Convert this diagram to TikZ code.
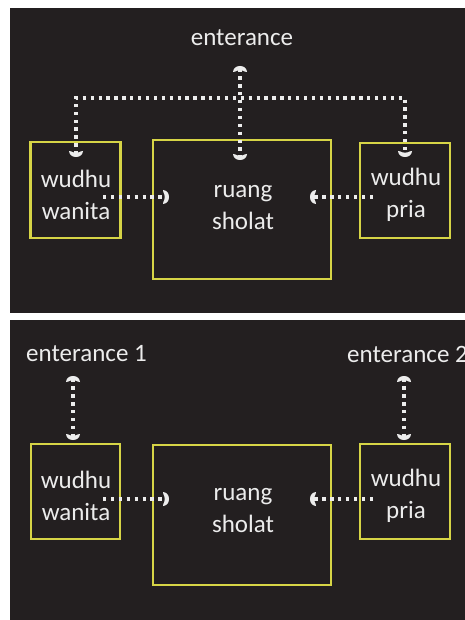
\documentclass[tikz,border=0pt]{standalone}
\usepackage{fontspec}
\setmainfont{Carlito}
\usetikzlibrary{arrows.meta}
\definecolor{panelbg}{RGB}{35,31,32}
\definecolor{boxline}{RGB}{214,212,70}
\definecolor{ink}{RGB}{236,236,236}

% filled crescent arrow head, convex side pointing forward
\pgfdeclarearrow{
  name = Crescent,
  setup code = {
    \pgfarrowssettipend{0pt}
    \pgfarrowssetlineend{-2.5pt}
    \pgfarrowssetvisualbackend{-6pt}
    \pgfarrowssetbackend{-6pt}
    \pgfarrowshullpoint{0pt}{0pt}
    \pgfarrowshullpoint{-6pt}{7pt}
    \pgfarrowshullpoint{-6pt}{-7pt}
  },
  drawing code = {
    \pgfsetfillcolor{ink}
    \pgfpathmoveto{\pgfpoint{-6pt}{7pt}}
    \pgfpathcurveto{\pgfpoint{-2.2pt}{6.8pt}}{\pgfpoint{0pt}{3.8pt}}{\pgfpoint{0pt}{0pt}}
    \pgfpathcurveto{\pgfpoint{0pt}{-3.8pt}}{\pgfpoint{-2.2pt}{-6.8pt}}{\pgfpoint{-6pt}{-7pt}}
    \pgfpathlineto{\pgfpoint{-5.6pt}{-4.8pt}}
    \pgfpathcurveto{\pgfpoint{-3.9pt}{-2.7pt}}{\pgfpoint{-3.9pt}{2.7pt}}{\pgfpoint{-5.6pt}{4.8pt}}
    \pgfpathclose
    \pgfusepathqfill
  }
}

\tikzset{
  room/.style={draw=boxline, line width=2.6pt, inner sep=0pt},
  lbl/.style={text=ink, font=\fontsize{25}{32}\selectfont, align=center, inner sep=0pt},
  flow/.style={draw=ink, line width=3.3pt, dash pattern=on 3.3pt off 4.6pt},
}
\begin{document}
\begin{tikzpicture}[x=1pt, y=-1pt]
\useasboundingbox (0,0) rectangle (465,620);
% panels
\fill[white] (0,0) rectangle (465,620);
\fill[panelbg] (10,8) rectangle (465,313);
\fill[panelbg] (10,320) rectangle (465,620);

% ---------- upper layout: one shared entrance ----------
\node[room, minimum width=90pt, minimum height=96pt] (wanA) at (75.5,190) {};
\node[room, minimum width=178pt, minimum height=139pt] (ruangA) at (242,209.5) {};
\node[room, minimum width=90pt, minimum height=95pt] (priaA) at (405,190.5) {};
\node[lbl] (wanAt) at (76,195) {wudhu\\wanita};
\node[lbl] (ruangAt) at (243,208) {ruang\\sholat};
\node[lbl] (priaAt) at (406,195) {wudhu\\pria};
\node[lbl] (entA) at (242,38) {enterance};

\coordinate (entAtip) at (240,66);
\coordinate (ruangAtip) at (240,160);
\coordinate (wanAtip) at (76,157);
\coordinate (wanAturn) at (76,98);
\coordinate (priaAturn) at (405,98);
\coordinate (priaAtip) at (405,157);
\coordinate (wanAout) at (103,197);
\coordinate (ruangAinL) at (169,197);
\coordinate (priaAout) at (373,197);
\coordinate (ruangAinR) at (310,197);

\draw[flow, {Crescent}-{Crescent}] (entAtip) -- (ruangAtip);
\draw[flow, {Crescent}-{Crescent}] (wanAtip) -- (wanAturn) -- (priaAturn) -- (priaAtip);
\draw[flow, -{Crescent}] (wanAout) -- (ruangAinL);
\draw[flow, -{Crescent}] (priaAout) -- (ruangAinR);

% ---------- lower layout: two separate entrances ----------
\node[room, minimum width=89pt, minimum height=95pt] (wanB) at (75.5,491.5) {};
\node[room, minimum width=178pt, minimum height=140pt] (ruangB) at (242,515) {};
\node[room, minimum width=90pt, minimum height=95pt] (priaB) at (405,491.5) {};
\node[lbl] (wanBt) at (76,496) {wudhu\\wanita};
\node[lbl] (ruangBt) at (243,511) {ruang\\sholat};
\node[lbl] (priaBt) at (406,496) {wudhu\\pria};
\node[lbl, anchor=west] (entB1) at (26,354) {enterance 1};
\node[lbl, anchor=west] (entB2) at (347,354) {enterance 2};

\coordinate (entB1tip) at (73,376);
\coordinate (wanBtip) at (73,440);
\coordinate (entB2tip) at (404,376);
\coordinate (priaBtip) at (404,440);
\coordinate (wanBout) at (103,499);
\coordinate (ruangBinL) at (169,499);
\coordinate (priaBout) at (373,499);
\coordinate (ruangBinR) at (310,499);

\draw[flow, {Crescent}-{Crescent}] (entB1tip) -- (wanBtip);
\draw[flow, {Crescent}-{Crescent}] (entB2tip) -- (priaBtip);
\draw[flow, -{Crescent}] (wanBout) -- (ruangBinL);
\draw[flow, -{Crescent}] (priaBout) -- (ruangBinR);
\end{tikzpicture}
\end{document}
